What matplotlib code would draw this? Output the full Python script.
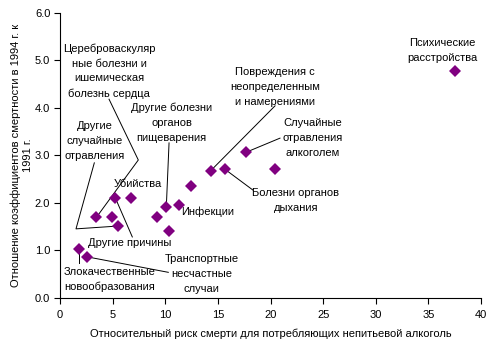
import matplotlib
matplotlib.use("Agg")
import matplotlib.pyplot as plt

plt.rcParams['font.family'] = ['Liberation Sans', 'DejaVu Sans']
plt.rcParams['font.size'] = 8

# relative risk for drinkers of non-beverage alcohol vs. mortality ratio 1994/1991
risk = [1.81, 2.6, 3.45, 4.97, 5.26, 5.54, 6.78, 9.25, 10.1, 10.39,
        11.28, 12.45, 14.3, 15.7, 17.65, 20.47, 37.57]
ratio = [1.02, 0.86, 1.69, 1.71, 2.10, 1.51, 2.10, 1.71, 1.91, 1.40,
         1.95, 2.35, 2.67, 2.70, 3.06, 2.70, 4.77]

# label text, text centre (data units), point index, leader bends (None = no leader)
labels = [
    ("Цереброваскуляр\nные болезни и\nишемическая\nболезнь сердца", (4.66, 4.77), 2,
     [(4.66, 4.18), (7.44, 2.90)]),
    ("Другие\nслучайные\nотравления", (3.33, 3.30), 5,
     [(3.26, 2.84), (1.52, 1.45)]),
    ("Другие болезни\nорганов\nпищеварения", (10.61, 3.68), 8,
     [(10.36, 3.26)]),
    ("Убийства", (7.41, 2.39), 6, None),
    ("Другие причины", (6.65, 1.16), 4, [(6.87, 1.28)]),
    ("Злокачественные\nновообразования", (4.75, 0.38), 0, [(1.81, 0.73)]),
    ("Транспортные\nнесчастные\nслучаи", (13.46, 0.50), 1, [(10.29, 0.535)]),
    ("Инфекции", (14.06, 1.81), 10, None),
    ("Повреждения с\nнеопределенным\nи намерениями", (20.43, 4.44), 12,
     [(20.43, 4.04)]),
    ("Случайные\nотравления\nалкоголем", (24.04, 3.36), 14, [(20.9, 3.36)]),
    ("Болезни органов\nдыхания", (22.42, 2.04), 13, [(18.31, 2.27)]),
    ("Психические\nрасстройства", (36.3, 5.21), 16, None),
]

fig = plt.figure(figsize=(4.93, 3.45), dpi=100)
ax = fig.add_axes([0.1217, 0.137, 0.854, 0.826])

for text, (tx, ty), idx, bends in labels:
    ax.text(tx, ty, text, ha='center', va='center', linespacing=1.6)
    if bends:
        lx = [b[0] for b in bends] + [risk[idx]]
        ly = [b[1] for b in bends] + [ratio[idx]]
        ax.plot(lx, ly, color='black', lw=0.7, zorder=2)

ax.plot(risk, ratio, linestyle='none', marker='D', markersize=6.2,
        color='#800080', markeredgewidth=0, zorder=3)

ax.set_xlim(0, 40)
ax.set_ylim(0, 6)
ax.set_xticks(range(0, 41, 5))
ax.set_yticks([0, 1, 2, 3, 4, 5, 6])
ax.set_yticklabels([f"{v:.1f}" for v in range(7)])
ax.spines['top'].set_visible(False)
ax.spines['right'].set_visible(False)
ax.tick_params(direction='out', length=4, width=0.8, pad=3)
ax.tick_params(axis='x', pad=5)

ax.set_xlabel("Относительный риск смерти для потребляющих непитьевой алкоголь",
              labelpad=6)
ax.set_ylabel("Отношение коэффициентов смертности в 1994 г. к\n1991 г.",
              labelpad=1.5)

fig.savefig("out.png", dpi=100)
